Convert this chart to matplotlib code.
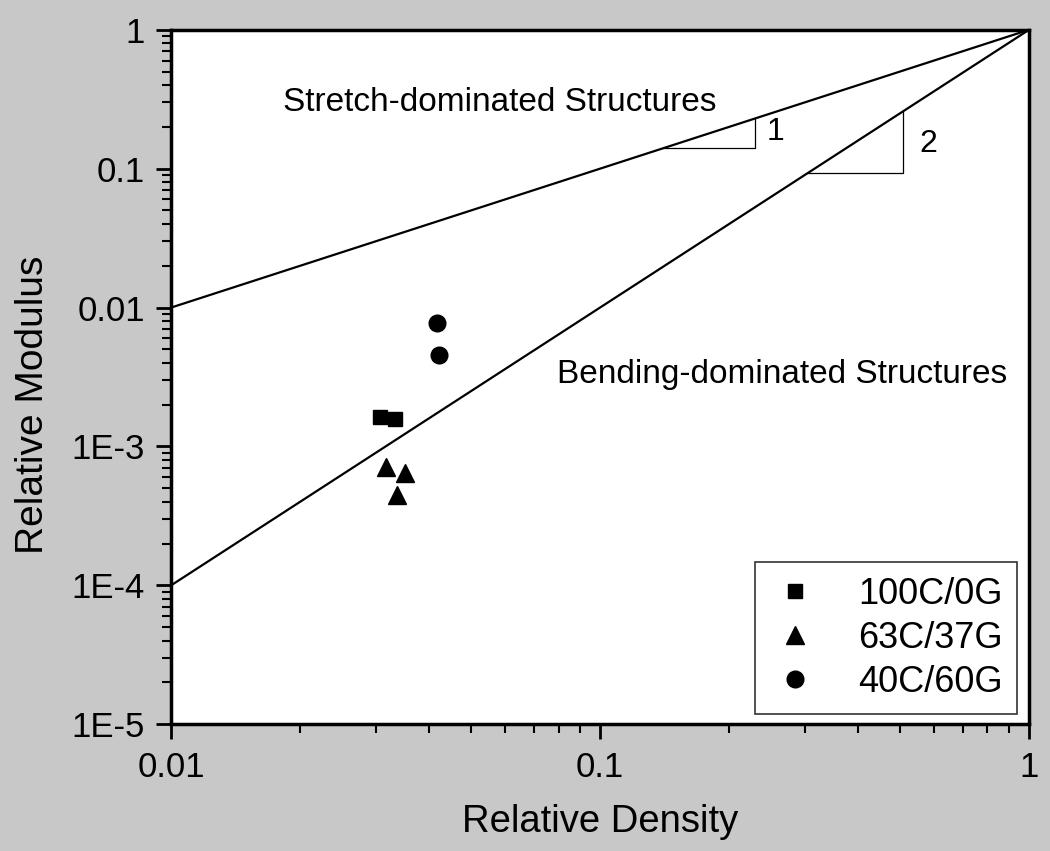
import numpy as np
import matplotlib.pyplot as plt
from matplotlib.ticker import LogLocator, NullFormatter, FixedFormatter, FixedLocator

plt.rcParams['font.family'] = ['Liberation Sans', 'DejaVu Sans']

sq_x = [0.0307, 0.0332]
sq_y = [0.00162, 0.00158]
tri_x = [0.0317, 0.0351, 0.0336]
tri_y = [7.1e-4, 6.4e-4, 4.45e-4]
circ_x = [0.0417, 0.0422]
circ_y = [0.0077, 0.00456]

# guide lines: E ~ rho and E ~ rho^2
rho = np.array([0.01, 1.0])
stretch = rho
bending = rho ** 2

# slope triangles (x start, x end)
tri1 = [0.14, 0.23]
tri2 = [0.305, 0.508]

fig = plt.figure(figsize=(10.5, 8.51), dpi=100, facecolor='#c8c8c8')
ax = fig.add_axes([0.163, 0.149, 0.817, 0.816])
ax.set_facecolor('white')

ax.plot(rho, stretch, color='black', lw=1.6)
ax.plot(rho, bending, color='black', lw=1.6)

# slope 1 triangle
ax.plot([tri1[0], tri1[1], tri1[1]], [tri1[0], tri1[0], tri1[1]], color='black', lw=0.9)
ax.text(0.256, 0.184, '1', fontsize=23, va='center', ha='center')
# slope 2 triangle
ax.plot([tri2[0], tri2[1], tri2[1]], [tri2[0]**2, tri2[0]**2, tri2[1]**2], color='black', lw=0.9)
ax.text(0.582, 0.151, '2', fontsize=23, va='center', ha='center')

ax.text(0.0182, 0.298, 'Stretch-dominated Structures', fontsize=24, va='center')
ax.text(0.0794, 0.00327, 'Bending-dominated Structures', fontsize=24, va='center')

ax.plot(sq_x, sq_y, 's', color='black', ms=10.5, ls='none', label='100C/0G')
ax.plot(tri_x, tri_y, '^', color='black', ms=13, ls='none', label='63C/37G')
ax.plot(circ_x, circ_y, 'o', color='black', ms=12, ls='none', label='40C/60G')

ax.set_xscale('log')
ax.set_yscale('log')
ax.set_xlim(0.01, 1)
ax.set_ylim(1e-5, 1)

ax.xaxis.set_major_locator(FixedLocator([0.01, 0.1, 1]))
ax.xaxis.set_major_formatter(FixedFormatter(['0.01', '0.1', '1']))
ax.yaxis.set_major_locator(FixedLocator([1e-5, 1e-4, 1e-3, 0.01, 0.1, 1]))
ax.yaxis.set_major_formatter(FixedFormatter(['1E-5', '1E-4', '1E-3', '0.01', '0.1', '1']))
ax.xaxis.set_minor_locator(LogLocator(base=10, subs=np.arange(2, 10), numticks=20))
ax.yaxis.set_minor_locator(LogLocator(base=10, subs=np.arange(2, 10), numticks=20))
ax.xaxis.set_minor_formatter(NullFormatter())
ax.yaxis.set_minor_formatter(NullFormatter())

ax.tick_params(which='major', direction='out', length=11, width=2, labelsize=25, pad=8)
ax.tick_params(which='minor', direction='out', length=6.5, width=1.5)
for s in ax.spines.values():
    s.set_linewidth(2.5)

ax.set_xlabel('Relative Density', fontsize=27.5, labelpad=15)
ax.set_ylabel('Relative Modulus', fontsize=28, labelpad=15, y=0.46)

leg = ax.legend(loc='lower right', fontsize=26, frameon=True, fancybox=False,
                edgecolor='black', handletextpad=1.03, handlelength=1.42,
                borderpad=0.4, labelspacing=0.25, borderaxespad=0,
                bbox_to_anchor=(0.986, 0.0144))
leg.get_frame().set_linewidth(1.2)

fig.savefig('out.png', dpi=100, facecolor=fig.get_facecolor())
